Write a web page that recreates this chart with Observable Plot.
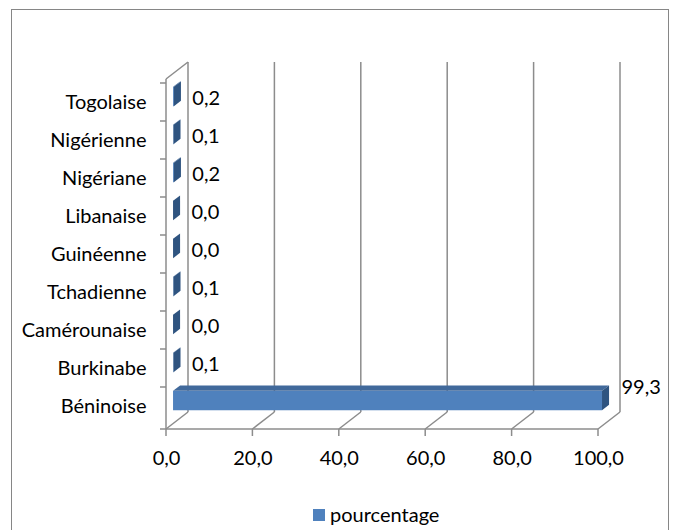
<!DOCTYPE html>
<html>
<head>
<meta charset="utf-8">
<script src="https://cdn.jsdelivr.net/npm/d3@7"></script>
<script src="https://cdn.jsdelivr.net/npm/@observablehq/plot@0.6"></script>
<style>
  body { margin: 0; background: #fff; font-family: Lato, "Noto Sans", sans-serif; }
  #frame { position: absolute; left: 11px; top: 9px; width: 658px; height: 540px; border: 1px solid #868686; border-bottom: none; box-sizing: border-box; }
  #chart { position: absolute; left: 0; top: 0; }
  #legend { position: absolute; left: 0; top: 502px; width: 676px; height: 24px; }
  #legend .sw { position: absolute; left: 313px; top: 7px; width: 12px; height: 12px; background: #4F81BD; }
  #legend .lb { position: absolute; left: 330px; top: 0; font-size: 20px; line-height: 24px; color: #000; }
</style>
</head>
<body>
<div id="frame"></div>
<div id="chart"></div>
<div id="legend"><div class="sw"></div><div class="lb">pourcentage</div></div>
<script>
const categories = ["Béninoise", "Burkinabe", "Camérounaise", "Tchadienne", "Guinéenne", "Libanaise", "Nigériane", "Nigérienne", "Togolaise"];
const values = [99.3, 0.1, 0.0, 0.1, 0.0, 0.0, 0.2, 0.1, 0.2];
const xTicks = [0, 20, 40, 60, 80, 100];
const seriesName = "pourcentage";

const fmt = v => d3.format(".1f")(v).replace(".", ",");
const DX = 22, DY = -17;       // depth vector of the 3D box (pixels)
const T0 = 0.32, T1 = 0.64;    // bar depth position
const gridColor = "#8c8c8c";
const idx = values.map((_, i) => i);

function bandwidthOf(y, top, bottom) {
  if (y && typeof y.bandwidth === "function") { const b = y.bandwidth(); if (b > 0) return b; }
  if (y && typeof y.bandwidth === "number" && y.bandwidth > 0) return y.bandwidth;
  return (bottom - top) / categories.length;
}

function box(index, scales, values_, dims) {
  const {x, y} = scales;
  const g = d3.create("svg:g").attr("stroke", gridColor).attr("stroke-width", 1.5).attr("fill", "none");
  const top = dims.marginTop, bottom = dims.height - dims.marginBottom;
  const x0 = x(0), x1 = x(100);
  for (const t of xTicks) {
    g.append("line").attr("x1", x(t) + DX).attr("x2", x(t) + DX).attr("y1", top + DY).attr("y2", bottom + DY);
    g.append("line").attr("x1", x(t)).attr("x2", x(t) + DX).attr("y1", bottom).attr("y2", bottom + DY);
    g.append("line").attr("x1", x(t)).attr("x2", x(t)).attr("y1", bottom).attr("y2", bottom + 7);
  }
  g.append("line").attr("x1", x0).attr("x2", x0 + DX).attr("y1", top).attr("y2", top + DY);
  g.append("line").attr("x1", x0).attr("x2", x0).attr("y1", top).attr("y2", bottom);
  g.append("line").attr("x1", x0).attr("x2", x1).attr("y1", bottom).attr("y2", bottom);
  for (const c of categories) {
    g.append("line").attr("x1", x0 - 6).attr("x2", x0).attr("y1", y(c)).attr("y2", y(c));
  }
  g.append("line").attr("x1", x0 - 6).attr("x2", x0).attr("y1", bottom).attr("y2", bottom);
  return g.node();
}

function bars3d(index, scales, values_, dims) {
  const {x, y} = scales;
  const top = dims.marginTop, bottom = dims.height - dims.marginBottom;
  const bw = bandwidthOf(y, top, bottom);
  const g = d3.create("svg:g").attr("stroke", "none");
  const ddx = DX * (T1 - T0), ddy = DY * (T1 - T0);
  categories.forEach((c, i) => {
    const v = values[i];
    const h = bw * 0.51;
    const xa = x(0) + DX * T0, xb = x(v) + DX * T0;
    const ya = y(c) + bw * 0.245 + DY * T0;
    g.append("rect").attr("x", xa).attr("y", ya).attr("width", Math.max(0, xb - xa)).attr("height", h).attr("fill", "#4F81BD");
    g.append("polygon").attr("points", [[xa, ya], [xb, ya], [xb + ddx, ya + ddy], [xa + ddx, ya + ddy]].join(" ")).attr("fill", "#41699B");
    g.append("polygon").attr("points", [[xb, ya], [xb + ddx, ya + ddy], [xb + ddx, ya + h + ddy], [xb, ya + h]].join(" ")).attr("fill", "#2F5480");
  });
  return g.node();
}

const plot = Plot.plot({
  width: 676,
  height: 490,
  marginLeft: 166,
  marginRight: 78,
  marginTop: 79,
  marginBottom: 61,
  style: {fontFamily: "Lato, 'Noto Sans', sans-serif", fontSize: "20px", color: "#000", background: "transparent"},
  x: {domain: [0, 100], axis: null},
  y: {type: "band", domain: categories.slice().reverse(), axis: null, padding: 0},
  marks: [
    box,
    bars3d,
    Plot.text(categories, {x: () => 0, y: d => d, text: d => d, textAnchor: "end", dx: -20, fill: "#000", fontSize: 20}),
    Plot.text(xTicks, {x: d => d, frameAnchor: "bottom", dy: 35, text: d => fmt(d), fill: "#000", fontSize: 20}),
    Plot.text(idx, {filter: i => values[i] < 50, x: i => values[i], y: i => categories[i], text: i => fmt(values[i]), textAnchor: "start", dx: 25, dy: -4, fill: "#000", fontSize: 20}),
    Plot.text(idx, {filter: i => values[i] >= 50, x: i => values[i], y: i => categories[i], text: i => fmt(values[i]), textAnchor: "start", dx: 26, dy: -19, fill: "#000", fontSize: 20})
  ]
});
document.getElementById("chart").appendChild(plot);
</script>
</body>
</html>
